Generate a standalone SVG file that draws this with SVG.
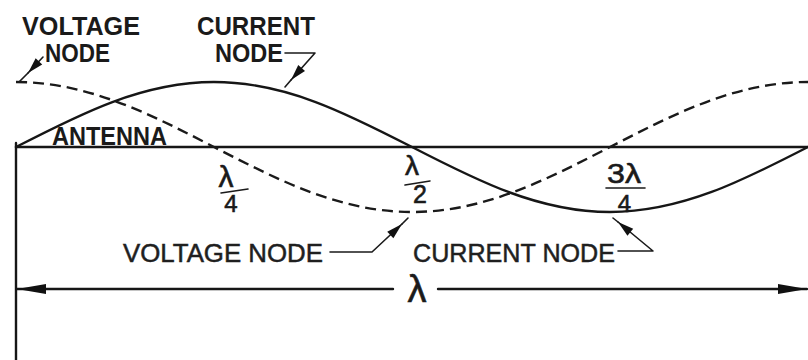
<svg xmlns="http://www.w3.org/2000/svg" width="808" height="360" viewBox="0 0 808 360">
<style>
  .ln{fill:none;stroke:#161616;stroke-width:2.4;stroke-linecap:round;stroke-linejoin:round}
  .th{fill:none;stroke:#1a1a1a;stroke-width:1.6;stroke-linecap:round;stroke-linejoin:round}
  .dash{fill:none;stroke:#1a1a1a;stroke-width:2.4;stroke-dasharray:11 6}
  .tb{font-family:"Liberation Sans",Arial,sans-serif;font-weight:bold;font-size:25px;fill:#1a1a1a}
  .tr{font-family:"Liberation Sans",Arial,sans-serif;font-size:25px;fill:#1f1f1f;stroke:#1f1f1f;stroke-width:0.5}
  .gk{font-family:"Liberation Sans",Arial,sans-serif;fill:#1a1a1a;stroke:#1a1a1a;stroke-width:0.6;text-anchor:middle}
</style>
<defs>
  <marker id="lead" markerUnits="userSpaceOnUse" markerWidth="20" markerHeight="12" viewBox="-17 -6 18 12" refX="0" refY="0" orient="auto">
    <path d="M0,0 L-16,-4.5 L-16,4.5 z" fill="#111"/>
  </marker>
  <marker id="dim" markerUnits="userSpaceOnUse" markerWidth="32" markerHeight="12" viewBox="-30 -6 31 12" refX="0" refY="0" orient="auto">
    <path d="M0,0 L-29,-5 L-29,5 z" fill="#111"/>
  </marker>
</defs>
<rect width="808" height="360" fill="#fff"/>

<g id="antenna">
  <line class="ln" x1="16" y1="147" x2="808" y2="147"/>
  <line class="ln" x1="16" y1="143" x2="16" y2="360" stroke-width="2"/>
  <text class="tb" x="52" y="145" textLength="115" lengthAdjust="spacingAndGlyphs" font-size="24">ANTENNA</text>
</g>

<g id="current-wave">
  <path class="ln" d="M16,147 C80.6,113.7 142.4,82 214,82 C285.6,82 347.4,113.7 412,147 C476.6,180.3 538.4,212 610,212 C681.6,212 743.4,180.3 808,147"/>
</g>

<g id="voltage-wave">
  <path class="dash" d="M16,82 C87.6,82 149.4,113.7 214,147 C278.6,180.3 340.4,212 412,212 C483.6,212 545.4,180.3 610,147 C674.6,113.7 736.4,82 808,82"/>
</g>

<g id="label-voltage-node-top">
  <text class="tb" x="22" y="35" textLength="118" lengthAdjust="spacingAndGlyphs">VOLTAGE</text>
  <text class="tb" x="45" y="62" textLength="65" lengthAdjust="spacingAndGlyphs">NODE</text>
</g>
<g id="label-current-node-top">
  <text class="tb" x="197" y="35" textLength="118" lengthAdjust="spacingAndGlyphs">CURRENT</text>
  <text class="tb" x="215" y="62" textLength="68" lengthAdjust="spacingAndGlyphs">NODE</text>
</g>
<g id="label-voltage-node-bottom">
  <text class="tr" x="123" y="262" textLength="200" lengthAdjust="spacingAndGlyphs">VOLTAGE NODE</text>
</g>
<g id="label-current-node-bottom">
  <text class="tr" x="413" y="262" textLength="202" lengthAdjust="spacingAndGlyphs">CURRENT NODE</text>
</g>

<g id="label-quarter">
  <text class="gk" x="226" y="187" font-size="30">λ</text>
  <line class="th" x1="221" y1="193" x2="248" y2="189" stroke-width="2"/>
  <text class="gk" x="231" y="212" font-size="24">4</text>
</g>
<g id="label-half">
  <text class="gk" x="412" y="175" font-size="28">λ</text>
  <line class="th" x1="405" y1="185" x2="430" y2="181" stroke-width="2"/>
  <text class="gk" x="420" y="203" font-size="25">2</text>
</g>
<g id="label-three-quarter">
  <text class="gk" x="624" y="183" font-size="28" textLength="34" lengthAdjust="spacingAndGlyphs">3λ</text>
  <line class="th" x1="606" y1="188" x2="645" y2="188" stroke-width="2"/>
  <text class="gk" x="624.5" y="212" font-size="24">4</text>
</g>
<g id="label-lambda">
  <text class="gk" x="417" y="302" font-size="38">λ</text>
</g>

<g id="connectors">
  <path class="th" d="M43,57 L28,73" marker-end="url(#lead)"/>
  <path class="th" d="M28,73 L19,82"/>
  <path class="th" d="M285,53 L315,53 L291,80" marker-end="url(#lead)"/>
  <path class="th" d="M291,80 L285,87"/>
  <path class="th" d="M330,252 L372,252 L402,224" marker-end="url(#lead)"/>
  <path class="th" d="M402,224 L408,218"/>
  <path class="th" d="M618,251 L653,251 L618,222" marker-end="url(#lead)"/>
  <path class="th" d="M618,222 L613,218"/>
  <path class="ln" d="M393,289 L17,289" stroke-width="2.2" marker-end="url(#dim)"/>
  <path class="ln" d="M438,289 L807,289" stroke-width="2.2" marker-end="url(#dim)"/>
</g>
</svg>
